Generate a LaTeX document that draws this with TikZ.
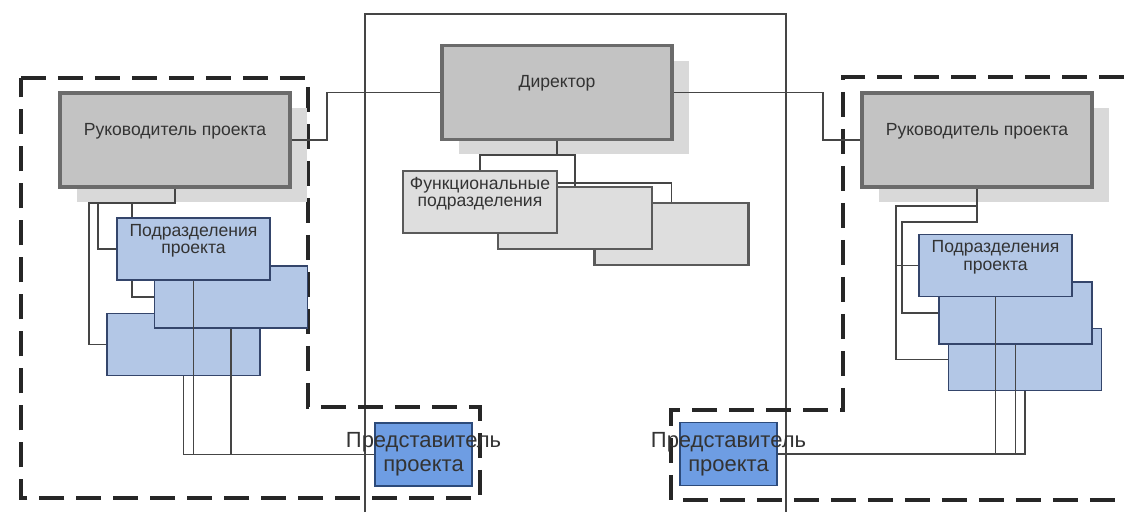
\documentclass[tikz,border=0pt]{standalone}
\usepackage{fontspec}
\setmainfont{Liberation Sans}
\usetikzlibrary{shadows}
\definecolor{chieffill}{HTML}{C3C3C3}
\definecolor{chiefedge}{HTML}{6B6B6B}
\definecolor{shadowgray}{HTML}{D9D9D9}
\definecolor{funcfill}{HTML}{DEDEDE}
\definecolor{funcedge}{HTML}{5A5A5A}
\definecolor{unitfill}{HTML}{B3C7E6}
\definecolor{unitedge}{HTML}{34456B}
\definecolor{repfill}{HTML}{6E9DE3}
\definecolor{repedge}{HTML}{2C4A7A}
\definecolor{wire}{HTML}{454545}
\definecolor{ink}{HTML}{333333}
\begin{document}
\begin{tikzpicture}[
  x=0.02cm, y=-0.02cm,
  chief/.style={draw=chiefedge, line width=2.2pt, fill=chieffill, text=ink,
    minimum width=4.6cm, minimum height=1.88cm, text depth=0.43cm,
    font=\fontsize{10}{10}\selectfont,
    drop shadow={shadow xshift=0.34cm, shadow yshift=-0.3cm, fill=shadowgray, opacity=1}},
  func/.style={draw=funcedge, line width=1.2pt, fill=funcfill, text=ink, align=center,
    minimum width=3.08cm, minimum height=1.24cm, text depth=0.4cm,
    font=\fontsize{10}{9.5}\selectfont},
  unit/.style={draw=unitedge, line width=1pt, fill=unitfill, text=ink, align=center,
    minimum width=3.06cm, minimum height=1.24cm, text depth=0.4cm,
    font=\fontsize{10}{10}\selectfont},
  rep/.style={draw=repedge, line width=1pt, fill=repfill, text=ink, align=center,
    minimum width=1.94cm, minimum height=1.26cm,
    font=\fontsize{12.5}{13.6}\selectfont},
  frame/.style={black!85, line width=2pt, dash pattern=on 0.5cm off 0.24cm},
  w/.style={wire, line width=0.8pt}
]
\useasboundingbox (0,0) rectangle (1124,512);

% frames
\draw[wire, line width=0.8pt] (365,512) -- (365,14) -- (786,14) -- (786,512);
\draw[frame] (21,78) -- (308,78) -- (308,407) -- (480,407) -- (480,498) -- (21,498) -- cycle;
\draw[frame] (1124,77) -- (843,77) -- (843,410) -- (671,410) -- (671,500) -- (1124,500);

% boxes
\node[chief] (dir) at (557,92.5) {Директор};
\node[chief] (rukL) at (175,140) {Руководитель проекта};
\node[chief] (rukR) at (977,140) {Руководитель проекта};

\node[func] (f3) at (671.5,234) {};
\node[func] (f2) at (575,218) {};
\node[func] (f1) at (480,202) {Функциональные\\подразделения};

\node[unit] (uC) at (183.5,344.5) {};
\node[unit] (uB) at (231,297) {};
\node[unit] (uA) at (193.5,249) {Подразделения\\проекта};

\node[unit] (vC) at (1025,359.5) {};
\node[unit] (vB) at (1015.5,313) {};
\node[unit] (vA) at (995.5,265.5) {Подразделения\\проекта};

\node[rep] (repL) at (423.5,454.5) {\makebox[0pt]{Представитель}\\проекта};
\node[rep] (repR) at (728.5,454) {\makebox[0pt]{Представитель}\\проекта};

% director links
\coordinate (jl) at (327,92.5);
\coordinate (jr) at (823,92.5);
\draw[w] (dir.west) -- (jl) |- (rukL.east);
\draw[w] (dir.east) -- (jr) |- (rukR.west);

% functional tree
\coordinate (fj) at (557,155);
\coordinate (fk) at (575,183);
\draw[w, line width=1.6pt] (dir.south) -- (fj);
\draw[w] (f1.north) |- (fj) -| (f2.north);
\draw[w] (f1.east |- fk) -| (f3.north);

% left project tree
\coordinate (lx1) at (89,203);
\coordinate (lx2) at (98,203);
\coordinate (lx3) at (132,203);
\draw[w] (rukL.south) |- (lx1) |- (uC.west);
\draw[w] (lx2) |- (uA.west);
\draw[w] (lx3) -- (lx3 |- uA.north);
\draw[w] (lx3 |- uA.south) |- (uB.west);
\draw[w] (repL.west) -| (uC.south);
\draw[w] (uA.south) -- (uA.south |- repL.west);
\draw[w] (uB.south) -- (uB.south |- repL.west);

% right project tree
\coordinate (rx1) at (896,206);
\coordinate (rx2) at (902,222);
\draw[w] (rukR.south) |- (rx2) |- (vB.west);
\draw[w] (rukR.south |- rx1) -- (rx1) |- (vC.west);
\draw[w] (rx1 |- vA.west) -- (vA.west);
\draw[w] (repR.east) -| (vC.south);
\draw[w] (vA.south) -- (vA.south |- repR.east);
\draw[w] (vB.south) -- (vB.south |- repR.east);
\end{tikzpicture}
\end{document}
